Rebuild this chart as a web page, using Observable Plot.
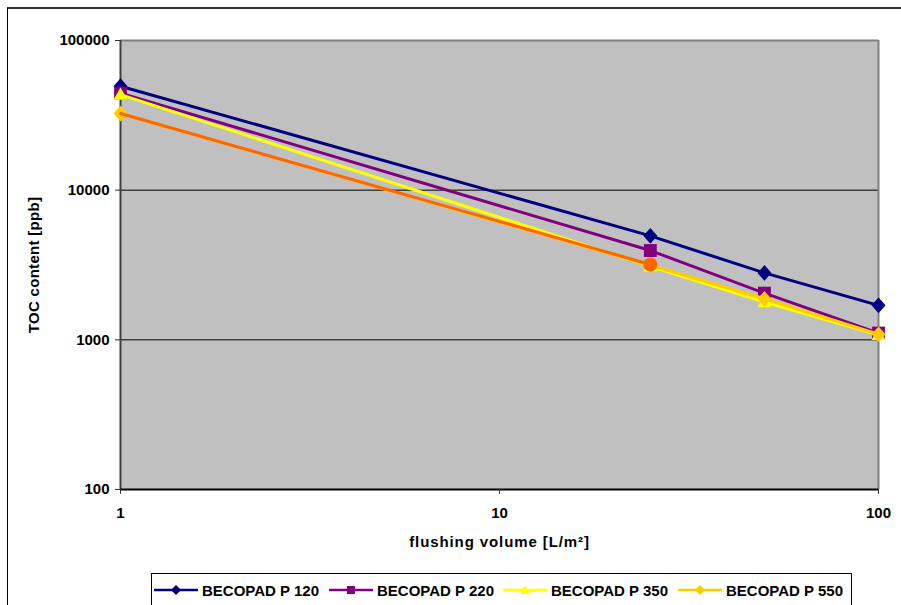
<!DOCTYPE html>
<html><head><meta charset="utf-8">
<script src="https://cdn.jsdelivr.net/npm/d3@7"></script>
<script src="https://cdn.jsdelivr.net/npm/@observablehq/plot@0.6"></script>
<style>
html,body{margin:0;padding:0;background:#fff;overflow:hidden}
#wrap{position:relative;width:901px;height:605px;overflow:hidden;font-family:"Liberation Sans",Arial,sans-serif}
#outer{position:absolute;left:7px;top:7px;width:920px;height:700px;border-left:1px solid #000;border-top:2px solid #333;box-sizing:border-box}
#chart{position:absolute;left:0;top:0}
#legend{position:absolute;left:151px;top:573px;width:701px;height:50px;border:1px solid #000;background:#fff;box-sizing:border-box}
.item{position:absolute;top:0;height:32px;display:flex;align-items:center}
.item span{font-weight:bold;font-size:15px;color:#000;margin-left:4px;white-space:nowrap}
</style></head>
<body>
<div id="wrap">
  <div id="outer"></div>
  <div id="chart"></div>
  <div id="legend"></div>
</div>
<script>
// ---- data ----
const xValues = [1, 25, 50, 100];
const seriesNames = ["BECOPAD P 120", "BECOPAD P 220", "BECOPAD P 350", "BECOPAD P 550"];
const p120 = [49500, 4950, 2800, 1700];
const p220 = [44500, 3950, 2050, 1110];
const p350 = [43500, 3100, 1790, 1080];
const p550 = [32500, 3150, 1880, 1090];
const extraX = [1, 25];
const extraY = [32500, 3190];
const xTicks = [1, 10, 100];
const yTicks = [100, 1000, 10000, 100000];
const gridY = [1000, 10000];
const xLabel = "flushing volume [L/m²]";
const yLabel = "TOC content [ppb]";

const colors = ["#000080", "#800080", "#FFFF00", "#FFCC00"];
const extraColor = "#FF6600";

// custom symbols (size = pi r^2)
const rOf = s => Math.sqrt(s / Math.PI);
const symDiamond = {draw(c, s){const r = rOf(s); const w = r, h = r * 1.12; c.moveTo(0,-h); c.lineTo(w,0); c.lineTo(0,h); c.lineTo(-w,0); c.closePath();}};
const symSquare = {draw(c, s){const r = rOf(s) * 0.92; c.rect(-r,-r,2*r,2*r);}};
const symTriangle = {draw(c, s){const r = rOf(s); c.moveTo(0,-r); c.lineTo(r,r*0.75); c.lineTo(-r,r*0.75); c.closePath();}};
const symbols = [symDiamond, symSquare, symTriangle, symDiamond];

const all = [p120, p220, p350, p550];
const rows = all.map((vals, i) => xValues.map((x, j) => ({x, y: vals[j], s: seriesNames[i]})));
const extraRows = extraX.map((x, j) => ({x, y: extraY[j]}));

const marks = [
  Plot.frame({fill: "#C0C0C0", stroke: null}),
  Plot.ruleY(gridY, {stroke: "#000", strokeWidth: 1}),
  Plot.ruleY([yTicks[yTicks.length-1]], {stroke: "#808080", strokeWidth: 2}),
  Plot.ruleX([xTicks[xTicks.length-1]], {stroke: "#808080", strokeWidth: 2}),
  Plot.ruleX([xTicks[0]], {stroke: "#404040", strokeWidth: 2}),
  Plot.ruleY([yTicks[0]], {stroke: "#000", strokeWidth: 2}),
  Plot.axisY({ticks: yTicks, tickFormat: d => String(d), tickSize: 5, tickPadding: 6, stroke: "#333",
    label: yLabel, labelAnchor: "center", labelOffset: 92, labelArrow: "none"}),
  Plot.axisX({ticks: xTicks, tickFormat: d => String(d), tickSize: 5, tickPadding: 13, stroke: "#333",
    label: xLabel, labelAnchor: "center", labelOffset: 57, labelArrow: "none"})
];
rows.forEach((r, i) => {
  marks.push(Plot.line(r, {x: "x", y: "y", stroke: colors[i], strokeWidth: 3}));
  marks.push(Plot.dot(r, {x: "x", y: "y", symbol: () => symbols[i], fill: colors[i], stroke: "none", r: 7}));
});
marks.push(Plot.line(extraRows, {x: "x", y: "y", stroke: extraColor, strokeWidth: 3}));
marks.push(Plot.dot(extraRows.slice(1), {x: "x", y: "y", fill: extraColor, stroke: "none", r: 7}));

const chart = Plot.plot({
  width: 901, height: 605,
  marginLeft: 120, marginRight: 23, marginTop: 40, marginBottom: 116,
  x: {type: "log", domain: [1, 100]},
  y: {type: "log", domain: [100, 100000]},
  style: {background: "transparent", fontFamily: "'Liberation Sans', Arial, sans-serif", fontSize: "15px", fontWeight: "bold", color: "#000"},
  marks
});
chart.querySelectorAll('[aria-label="x-axis label"] text').forEach(t => t.style.letterSpacing = "0.9px");
chart.querySelectorAll('[aria-label="y-axis label"] text').forEach(t => t.style.letterSpacing = "0.3px");
document.getElementById("chart").appendChild(chart);

// legend
const legend = document.getElementById("legend");
const swLeft = [2, 177, 351, 526];
seriesNames.forEach((name, i) => {
  const it = document.createElement("div");
  it.className = "item";
  it.style.left = swLeft[i] + "px";
  const shape = i === 1 ? '<rect x="18" y="12" width="8" height="8" fill="' + colors[i] + '"/>'
    : i === 2 ? '<path d="M22,11 L27,20 L17,20 Z" fill="' + colors[i] + '"/>'
    : '<path d="M22,11 L27,16 L22,21 L17,16 Z" fill="' + colors[i] + '"/>';
  it.innerHTML = '<svg width="44" height="32"><line x1="0" x2="44" y1="16" y2="16" stroke="' + colors[i] + '" stroke-width="2.5"/>' + shape + '</svg><span>' + name + '</span>';
  legend.appendChild(it);
});
</script>
</body></html>
